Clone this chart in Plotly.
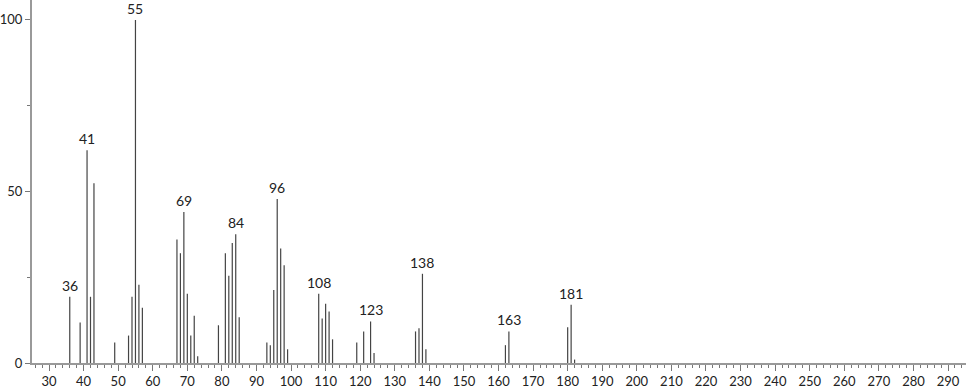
import plotly.graph_objects as go

mz = [36, 39, 41, 42, 43, 49, 53, 54, 55, 56, 57,
      67, 68, 69, 70, 71, 72, 73, 79, 81, 82, 83, 84, 85,
      93, 94, 95, 96, 97, 98, 99, 108, 109, 110, 111, 112,
      119, 121, 123, 124, 136, 137, 138, 139, 162, 163, 180, 181, 182]
intensity = [19.3, 11.8, 62.0, 19.3, 52.4, 6.0, 8.0, 19.3, 100.0, 22.8, 16.1,
             36.0, 32.0, 44.0, 20.2, 8.0, 13.8, 2.0, 11.0, 32.0, 25.4, 35.0, 37.5, 13.3,
             6.0, 5.2, 21.3, 47.8, 33.4, 28.5, 4.0, 20.2, 13.0, 17.3, 15.0, 6.9,
             6.0, 9.2, 12.1, 2.9, 9.2, 10.1, 26.0, 4.0, 5.2, 9.2, 10.4, 17.0, 1.0]
labeled_peaks = [36, 41, 55, 69, 84, 96, 108, 123, 138, 163, 181]
x_ticks = list(range(30, 300, 10))
y_ticks = [0, 50, 100]

xs, ys = [], []
for m, v in zip(mz, intensity):
    xs += [m, m, None]
    ys += [0, v, None]

fig = go.Figure()
fig.add_trace(go.Scatter(x=xs, y=ys, mode="lines",
                         line=dict(color="#444444", width=1.2),
                         hoverinfo="skip", showlegend=False))

lookup = dict(zip(mz, intensity))
for p in labeled_peaks:
    fig.add_annotation(x=p, y=lookup[p], text=str(p), showarrow=False,
                       yanchor="bottom", yshift=1,
                       font=dict(size=14, color="#222222", family="Lato"))

fig.update_layout(
    width=966, height=389,
    margin=dict(l=28, r=0, t=0, b=22),
    paper_bgcolor="white", plot_bgcolor="white",
    font=dict(family="Lato", size=13, color="#222222"),
    xaxis=dict(range=[25.08, 295.2], tickvals=x_ticks, ticktext=[str(t) for t in x_ticks],
               showgrid=False, zeroline=False, showline=True, linecolor="#999999", linewidth=1.5,
               ticks="outside", ticklen=6, tickcolor="#777777", tickwidth=1,
               tickfont=dict(size=13, color="#222222"),
               minor=dict(dtick=2, tick0=0, ticks="outside", ticklen=3, tickcolor="#777777", tickwidth=1)),
    yaxis=dict(range=[0, 105.8], tickvals=y_ticks, ticktext=[str(t) for t in y_ticks],
               showgrid=False, zeroline=False, showline=True, linecolor="#999999", linewidth=2,
               ticks="outside", ticklen=5, tickcolor="#777777", tickwidth=1,
               tickfont=dict(size=13, color="#222222"),
               minor=dict(tickvals=[25, 75], ticks="outside", ticklen=3, tickcolor="#777777", tickwidth=1)),
)

fig.write_html("out.html")
